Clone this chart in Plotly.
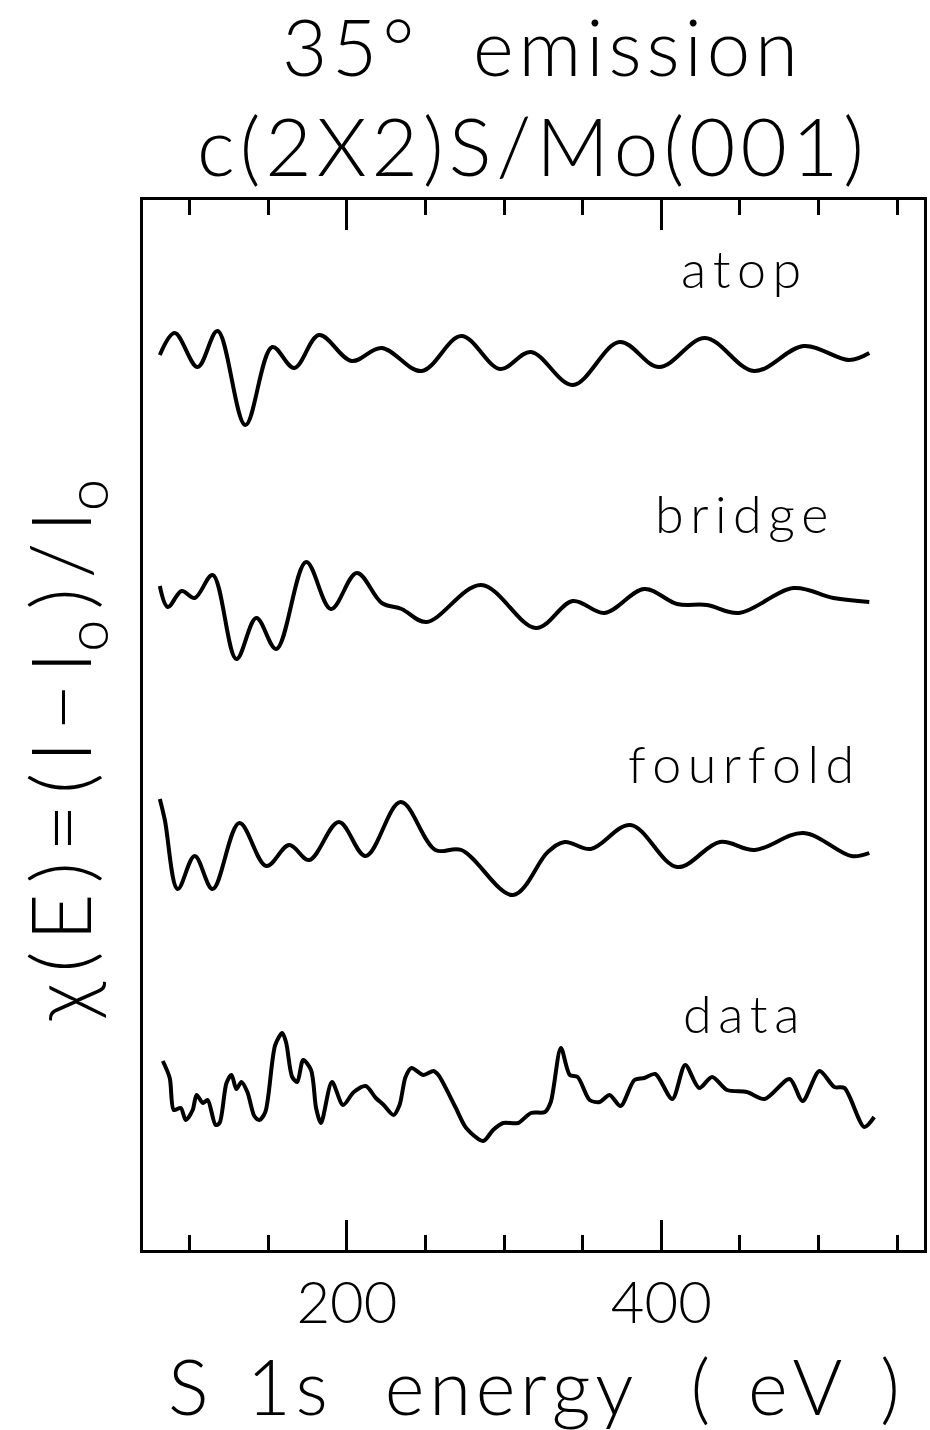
import plotly.graph_objects as go

# ---- chi(E) curves: energy (eV) and oscillation amplitude (arb. units) ----
atop_E = [81, 90.5, 105, 117.7, 135.4, 152.5, 166.5, 182.3, 203, 222, 247.5, 272.8,
          297.5, 317, 343.7, 373.4, 398.7, 427.8, 458.9, 490.5, 519.6, 532.3]
atop_chi = [0.0, 0.22, -0.12, 0.24, -0.70, 0.08, -0.13, 0.20, -0.06, 0.07, -0.16, 0.19,
            -0.14, 0.03, -0.30, 0.13, -0.12, 0.17, -0.16, 0.09, -0.05, 0.02]

bridge_E = [81, 86.1, 94.9, 103.2, 114.6, 129.7, 142.4, 155.1, 174.1, 189.9, 206.3, 222.2,
            234.8, 250.6, 285.4, 320.3, 343.7, 363.9, 389.2, 410.1, 429.1, 449.4, 484.2,
            509.5, 532.3]
bridge_chi = [0.14, -0.07, 0.09, 0.02, 0.25, -0.59, -0.18, -0.49, 0.38, -0.09, 0.27, -0.03,
              -0.09, -0.22, 0.15, -0.28, -0.01, -0.13, 0.11, -0.04, -0.05, -0.13, 0.12,
              0.02, -0.02]

fourfold_E = [81, 84.2, 92.4, 103.2, 114.6, 131.6, 148.7, 163.3, 176, 194.9, 212, 234.2,
              256.3, 272.8, 305.7, 327.8, 338.6, 355.1, 380.4, 410.1, 437.3, 459.5, 490.5,
              520.9, 532.3]
fourfold_chi = [0.51, 0.30, -0.39, -0.06, -0.39, 0.27, -0.16, 0.05, -0.10, 0.28, -0.06, 0.48,
                0.0, 0.0, -0.45, -0.02, 0.08, 0.01, 0.25, -0.17, 0.08, 0.0, 0.17, -0.06, -0.03]

data_E = [82.9, 87.3, 89.9, 94.3, 97.5, 101.9, 104.4, 108.4, 111.4, 116.5, 119, 123.4,
          126.6, 129.7, 132.9, 136.7, 141.1, 144.3, 148.1, 154.4, 158.9, 161.4, 165.2,
          168.4, 172.2, 177.2, 180.4, 183.5, 190.5, 197.5, 204.4, 212, 218.4, 223.4, 229.7,
          233.5, 237.3, 241.1, 248.7, 255.1, 258.2, 269, 275.9, 286.7, 293, 299.4, 308.9,
          317.1, 326, 329.7, 336.1, 341.8, 346.8, 354.4, 360.8, 367.1, 374.1, 382.9, 389.2,
          396.2, 407, 415.2, 424.1, 432.3, 441.8, 454.4, 465.8, 481.6, 489.9, 500.6, 510.1,
          516.5, 529.1, 535.4]
data_chi = [0.39, 0.22, -0.10, -0.08, -0.20, -0.10, 0.05, -0.03, 0.0, -0.25, -0.23, 0.17,
            0.25, 0.11, 0.18, 0.08, -0.16, -0.20, -0.12, 0.55, 0.67, 0.57, 0.23, 0.18, 0.40,
            0.30, -0.08, -0.23, 0.18, -0.05, 0.08, 0.14, 0.02, -0.05, -0.15, -0.05, 0.23,
            0.32, 0.25, 0.29, 0.25, -0.07, -0.28, -0.41, -0.30, -0.23, -0.23, -0.13, -0.12,
            -0.02, 0.52, 0.25, 0.23, 0.0, -0.02, 0.05, -0.06, 0.20, 0.22, 0.26, 0.01, 0.35,
            0.12, 0.23, 0.10, 0.08, 0.01, 0.21, -0.01, 0.29, 0.13, 0.12, -0.27, -0.17]

curve_names = ["atop", "bridge", "fourfold", "data"]
curve_offsets = [8.95, 6.5, 4.0, 1.5]
x_ticks = [200, 400]

FONT = "Lato"
WEIGHT = 300
THIN = "\u2009"
HAIR = "\u200a"
EN = "\u2002"
EM = "\u2003"

series = [
    (atop_E, atop_chi, 1.0),
    (bridge_E, bridge_chi, 1.0),
    (fourfold_E, fourfold_chi, 1.0),
    (data_E, data_chi, 0.8),
]

fig = go.Figure()
for (E, chi, smooth), off in zip(series, curve_offsets):
    fig.add_trace(go.Scatter(
        x=E, y=[c + off for c in chi], mode="lines",
        line=dict(color="black", width=4, shape="spline", smoothing=smooth),
        showlegend=False, hoverinfo="skip"))


def txt(size):
    return dict(family=FONT, size=size, color="black", weight=WEIGHT)


# curve labels sit above each trace, toward the right
for name, off in zip(curve_names, curve_offsets):
    fig.add_annotation(x=451, y=off + 0.87, xref="x", yref="y", text=THIN.join(name),
                       xanchor="center", yanchor="middle", showarrow=False, font=txt(52))

fig.add_annotation(x=0.508, y=1.147, xref="paper", yref="paper",
                   xanchor="center", yanchor="middle",
                   text=HAIR.join("35°") + EM + HAIR.join("emission"),
                   showarrow=False, font=txt(78))
fig.add_annotation(x=0.496, y=1.052, xref="paper", yref="paper",
                   xanchor="center", yanchor="middle",
                   text=HAIR.join("c(2X2)S/Mo(001)"), showarrow=False, font=txt(80))
fig.add_annotation(x=0.500, y=-0.129, xref="paper", yref="paper",
                   xanchor="center", yanchor="middle",
                   text=("S" + EN + HAIR.join("1s") + EM + HAIR.join("energy") + EM
                         + "(" + EN + HAIR.join("eV") + EN + ")"),
                   showarrow=False, font=txt(76))
fig.add_annotation(x=-0.0995, y=0.476, xref="paper", yref="paper", textangle=-90,
                   xanchor="center", yanchor="middle",
                   text=THIN.join(["χ", "(", "E", ")", "=", "(", "I", "−",
                                   "I<sub>o</sub>", ")", "/", "I<sub>o</sub>"]),
                   showarrow=False, font=txt(82))

fig.update_layout(
    width=930, height=1430,
    margin=dict(l=143, r=3, t=200, b=180),
    paper_bgcolor="white", plot_bgcolor="white",
    xaxis=dict(range=[70.3, 567.1], tickvals=x_ticks, ticks="inside", ticklen=30,
               tickwidth=2.5, tickcolor="black", showline=True, linecolor="black",
               linewidth=3, mirror="ticks", showgrid=False, zeroline=False,
               tickfont=txt(58),
               minor=dict(dtick=50, tick0=0, ticks="inside", ticklen=15, tickwidth=2.5,
                          tickcolor="black", showgrid=False)),
    yaxis=dict(range=[0, 10.5], showticklabels=False, ticks="", showline=True,
               linecolor="black", linewidth=3, mirror=True, showgrid=False,
               zeroline=False),
)

fig.write_html("out.html")
